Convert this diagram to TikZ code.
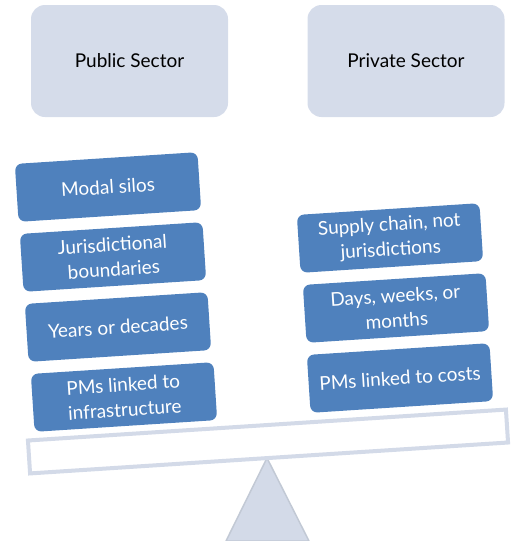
\documentclass[tikz,border=0pt]{standalone}
\usepackage{fontspec}
\setmainfont{Lato}
\usetikzlibrary{positioning}
\definecolor{sectorfill}{HTML}{D5DCEA}
\definecolor{itemblue}{HTML}{4F81BD}
\definecolor{beamline}{HTML}{D3DAE8}

\begin{document}
\begin{tikzpicture}[x=1pt,y=-1pt,
    sector/.style={rectangle, rounded corners=14pt, fill=sectorfill, minimum width=197pt, minimum height=112pt, font=\fontsize{19}{22}\selectfont},
    item/.style={rectangle, rounded corners=7pt, fill=itemblue, text=white, rotate=3.7, minimum width=183pt, minimum height=58pt, inner sep=2pt, align=center, font=\fontsize{19}{25}\selectfont},
    beam/.style={rectangle, rotate=3.7, draw=beamline, line width=4pt, fill=white, minimum width=479pt, minimum height=33pt}]
    \useasboundingbox (0,0) rectangle (515,541);

    % the two sides
    \node[sector] (public) at (129.5,61) {Public Sector};
    \node[sector] (private) at (406,61) {Private Sector};

    % fulcrum, then the tilted beam on top of it
    \coordinate (apex) at (267,458);
    \filldraw[fill=beamline, draw=beamline!92!black, line width=1.5pt, line join=round] (apex) -- (226,541) -- (309,541) -- cycle;
    \node[beam] (lever) at (268,441.5) {};

    % public side
    \node[item] (silos) at (108,187) {Modal silos};
    \node[item] (bounds) at (113,257) {Jurisdictional\\boundaries};
    \node[item] (years) at (118,327) {Years or decades};
    \node[item] (infra) at (124,397) {PMs linked to\\infrastructure};

    % private side
    \node[item] (chain) at (390,238) {Supply chain, not\\jurisdictions};
    \node[item] (days) at (396,308) {Days, weeks, or\\months};
    \node[item] (costs) at (400,378) {PMs linked to costs};
\end{tikzpicture}
\end{document}
